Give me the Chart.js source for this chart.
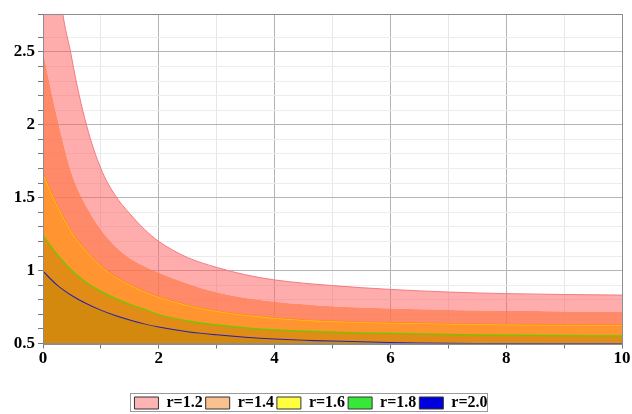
<!DOCTYPE html>
<html>
<head>
<meta charset="utf-8">
<script src="https://cdn.jsdelivr.net/npm/chart.js@4.4.1/dist/chart.umd.min.js"></script>
<style>
  html, body { margin: 0; padding: 0; background: #fff; }
  #wrap { width: 632px; height: 414px; }
</style>
</head>
<body>
<div id="wrap"><canvas id="chart" width="632" height="414"></canvas></div>
<script>
// values
const X_VALUES = [0, 0.25, 0.5, 0.75, 1, 1.25, 1.5, 1.75, 2, 2.5, 3, 3.5, 4, 5, 6, 7, 8, 9, 10];
const R_LABELS = ['r=1.2', 'r=1.4', 'r=1.6', 'r=1.8', 'r=2.0'];
const R12 = [5.0, 3.1, 2.45, 2.0, 1.70, 1.514, 1.39, 1.284, 1.2, 1.089, 1.022, 0.971, 0.936, 0.897, 0.871, 0.853, 0.842, 0.836, 0.832];
const R14 = [2.5, 2.04, 1.66, 1.44, 1.28, 1.165, 1.085, 1.03, 0.985, 0.91, 0.851, 0.812, 0.786, 0.755, 0.74, 0.73, 0.724, 0.72, 0.717];
const R16 = [1.667, 1.444, 1.263, 1.132, 1.032, 0.958, 0.903, 0.857, 0.819, 0.763, 0.723, 0.695, 0.675, 0.652, 0.642, 0.635, 0.631, 0.628, 0.625];
const R18 = [1.25, 1.115, 1.005, 0.924, 0.863, 0.813, 0.773, 0.739, 0.703, 0.66, 0.632, 0.612, 0.598, 0.582, 0.573, 0.567, 0.562, 0.558, 0.556];
const R20 = [1.0, 0.903, 0.832, 0.777, 0.732, 0.695, 0.664, 0.638, 0.616, 0.584, 0.563, 0.547, 0.535, 0.52, 0.511, 0.506, 0.503, 0.501, 0.5];
const SERIES = [R12, R14, R16, R18, R20];

const LINE_COLORS = ['#F07C84', '#FF8A66', '#FFC400', '#66CC00', '#2A1FB0'];
const LINE_WIDTHS = [1, 0, 1.5, 2.5, 2];
const FILL_COLORS = ['rgba(255,95,95,0.52)', 'rgba(255,112,72,0.82)', '#FF9430', '#E08C17', '#D2890E'];
const LEGEND_COLORS = ['#FFB4B4', '#F9C190', '#FFFF40', '#38E838', '#0000DC'];

const FONT = { family: "'Liberation Serif', 'DejaVu Serif', serif", weight: 'bold', size: 17 };

function toPoints(values) {
  return values.map((v, i) => ({ x: X_VALUES[i], y: v }));
}

const datasets = SERIES.map((s, i) => ({
  label: R_LABELS[i],
  data: toPoints(s),
  borderColor: LINE_COLORS[i],
  borderWidth: LINE_WIDTHS[i],
  backgroundColor: FILL_COLORS[i],
  fill: i < SERIES.length - 1 ? '+1' : 'start',
  pointRadius: 0,
  cubicInterpolationMode: 'monotone'
}));

// gray frame around the plot and around the legend
const frame = {
  id: 'frame',
  afterDatasetsDraw(chart) {
    const a = chart.chartArea, ctx = chart.ctx;
    ctx.save();
    ctx.strokeStyle = '#8c8c8c';
    ctx.lineWidth = 1;
    ctx.strokeRect(Math.round(a.left) + 0.5, Math.round(a.top) + 0.5,
      Math.round(a.right - a.left), Math.round(a.bottom - a.top));
    ctx.restore();
  },
  afterDraw(chart) {
    const boxes = chart.legend.legendHitBoxes;
    if (!boxes || !boxes.length) return;
    const first = boxes[0], last = boxes[boxes.length - 1], ctx = chart.ctx;
    const midY = first.top + first.height / 2;
    ctx.save();
    ctx.strokeStyle = '#9a9a9a';
    ctx.lineWidth = 1;
    ctx.strokeRect(Math.round(first.left) - 3.5, Math.round(midY) - 9.5,
      Math.round(last.left + last.width - first.left) + 4, 18);
    ctx.restore();
  }
};

new Chart(document.getElementById('chart'), {
  type: 'line',
  data: { datasets: datasets },
  plugins: [frame],
  options: {
    responsive: false,
    animation: false,
    layout: { padding: { left: 0, right: 10, top: 14, bottom: -7 } },
    plugins: {
      tooltip: { enabled: false },
      filler: { propagate: false },
      legend: {
        position: 'bottom',
        labels: {
          boxWidth: 24,
          boxHeight: 12,
          padding: 3,
          color: '#000',
          font: { family: FONT.family, weight: 'bold', size: 16 },
          generateLabels: () => R_LABELS.map((t, i) => ({
            text: t,
            fillStyle: LEGEND_COLORS[i],
            strokeStyle: '#333',
            lineWidth: 1,
            datasetIndex: i
          }))
        }
      }
    },
    scales: {
      x: {
        type: 'linear',
        min: 0,
        max: 10,
        border: { color: '#8c8c8c' },
        grid: {
          color: ctx => (ctx.tick && ctx.tick.value % 2 === 0) ? '#b4b4b4' : '#e6e6e6',
          tickLength: 5,
          tickColor: '#777'
        },
        ticks: {
          stepSize: 1,
          color: '#000',
          font: FONT,
          padding: 0,
          maxRotation: 0,
          callback: v => v % 2 === 0 ? String(v) : ''
        },
        afterFit: s => { s.height = 48.5; }
      },
      y: {
        min: 0.5,
        max: 2.76,
        border: { color: '#8c8c8c' },
        grid: {
          color: ctx => {
            const v = ctx.tick ? ctx.tick.value : 0;
            return Math.abs(v * 2 - Math.round(v * 2)) < 1e-6 ? '#b4b4b4' : '#ececec';
          },
          tickLength: 5,
          tickColor: '#777'
        },
        ticks: {
          stepSize: 0.1,
          color: '#000',
          font: FONT,
          padding: 3,
          autoSkip: false,
          callback: v => Math.abs(v * 2 - Math.round(v * 2)) < 1e-6 ? String(Math.round(v * 10) / 10) : ''
        },
        afterFit: s => { s.width = 43; }
      }
    }
  }
});
</script>
</body>
</html>
